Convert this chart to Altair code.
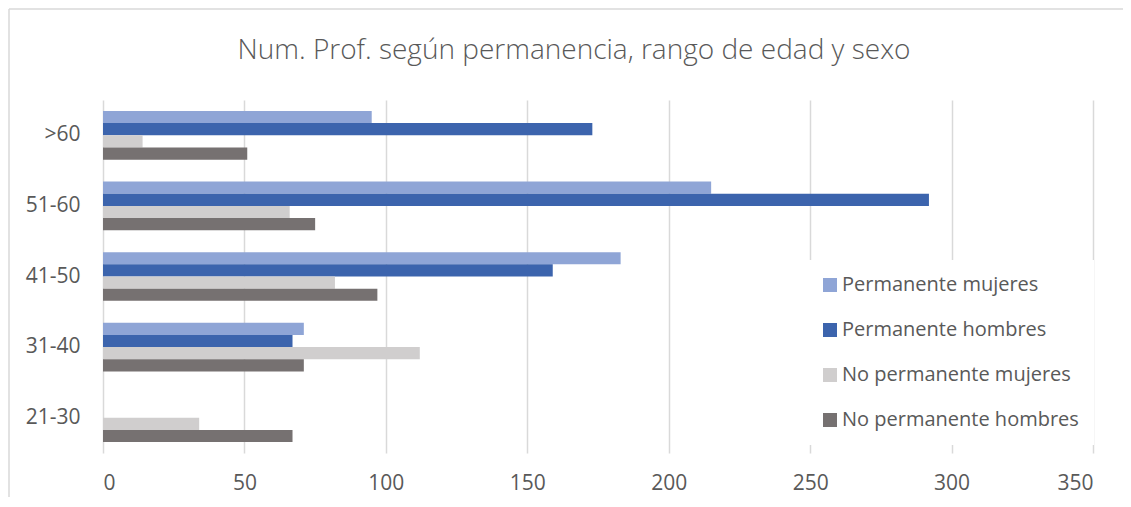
import altair as alt
import pandas as pd

categories = [">60", "51-60", "41-50", "31-40", "21-30"]
series = ["Permanente mujeres", "Permanente hombres", "No permanente mujeres", "No permanente hombres"]
perm_mujeres = [95, 215, 183, 71, 0]
perm_hombres = [173, 292, 159, 67, 0]
noperm_mujeres = [14, 66, 82, 112, 34]
noperm_hombres = [51, 75, 97, 71, 67]
colors = ["#8FA5D6", "#3C64AD", "#D0CECE", "#767171"]
x_ticks = [0, 50, 100, 150, 200, 250, 300, 350]

values_by_series = [perm_mujeres, perm_hombres, noperm_mujeres, noperm_hombres]
rows = []
for s, vals in zip(series, values_by_series):
    for c, v in zip(categories, vals):
        rows.append({"rango": c, "serie": s, "valor": v})
df = pd.DataFrame(rows)

FONT = "Open Sans"
TXT = "#595959"
GRID = "#D9D9D9"
W, H = 990, 353

bars = alt.Chart(df).mark_bar().encode(
    x=alt.X("valor:Q",
            scale=alt.Scale(domain=[0, 350], nice=False),
            axis=alt.Axis(values=x_ticks, title=None, domain=False, ticks=False,
                          grid=True, gridColor=GRID, gridWidth=1.5,
                          labelFontSize=21, labelColor=TXT, labelFont=FONT,
                          labelPadding=19)),
    y=alt.Y("rango:N", sort=categories,
            scale=alt.Scale(paddingInner=0.31, paddingOuter=0.155),
            axis=alt.Axis(title=None, domain=False, ticks=False, grid=False,
                          labelFontSize=21, labelColor=TXT, labelFont=FONT,
                          labelPadding=23)),
    yOffset=alt.YOffset("serie:N", sort=series),
    color=alt.Color("serie:N", sort=series,
                    scale=alt.Scale(domain=series, range=colors),
                    legend=alt.Legend(title=None, orient="none",
                                      legendX=702, legendY=160,
                                      symbolType="square", symbolSize=196,
                                      symbolStrokeWidth=0,
                                      labelFontSize=20, labelColor=TXT, labelFont=FONT,
                                      labelLimit=400,
                                      labelOffset=2, rowPadding=25,
                                      padding=15, fillColor="white")),
)

# light chart-area frame (left and top edges, as in the reference)
frame_df = pd.DataFrame({"k": [0]})
frame_left = alt.Chart(frame_df).mark_rule(color=GRID, strokeWidth=1.5).encode(
    x=alt.value(-94), y=alt.value(-91), y2=alt.value(H + 44))
frame_top = alt.Chart(frame_df).mark_rule(color=GRID, strokeWidth=1.5).encode(
    x=alt.value(-94), x2=alt.value(W + 30), y=alt.value(-91))

chart = alt.layer(bars, frame_left, frame_top).properties(
    width=W,
    height=H,
    title=alt.TitleParams("Num. Prof. según permanencia, rango de edad y sexo",
                          font=FONT, fontSize=28, fontWeight=300, color=TXT,
                          anchor="middle", offset=-57, dx=-24),
    autosize=alt.AutoSizeParams(type="none"),
    padding={"left": 95, "top": 92, "right": 30, "bottom": 44},
).configure(background="white").configure_view(stroke=None)

chart.save("out.html", embed_options={"renderer": "svg", "actions": False})
